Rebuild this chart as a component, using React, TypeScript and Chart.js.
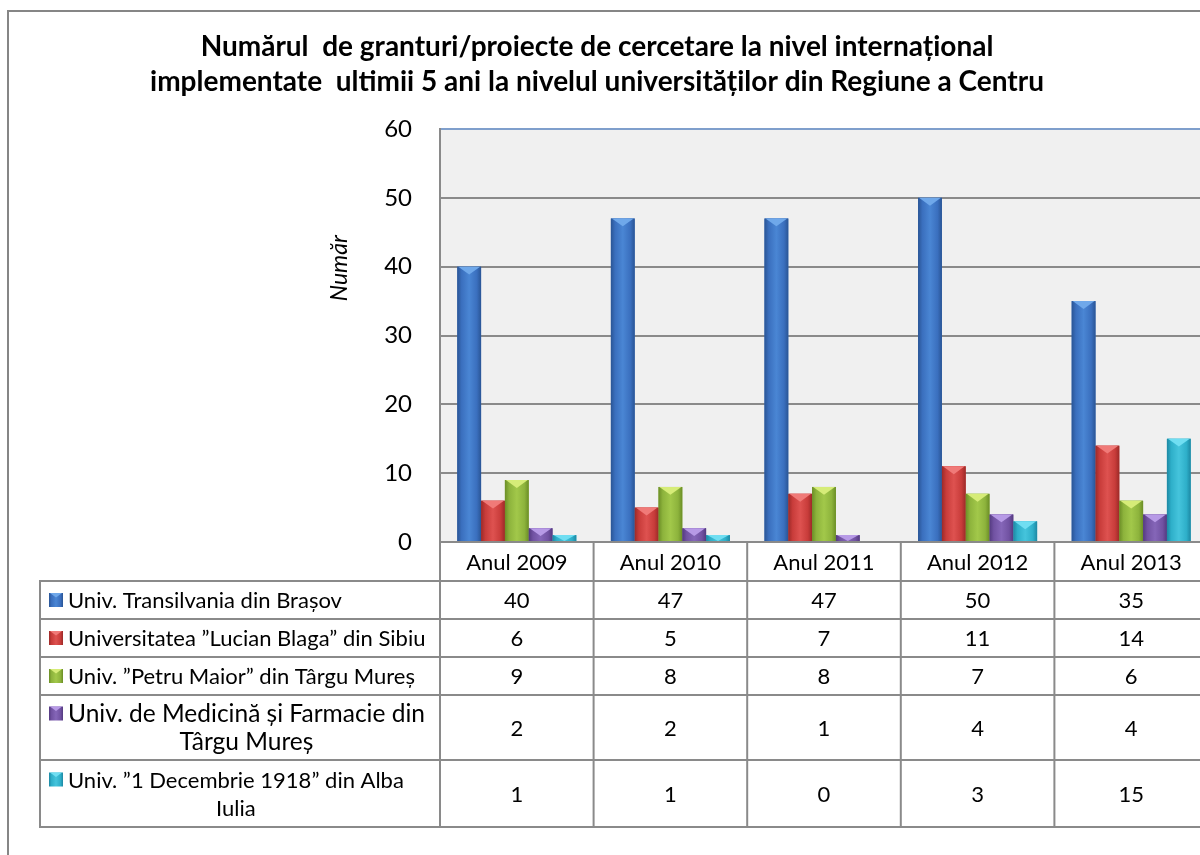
import React, { useEffect, useRef } from "react";
import { Chart, registerables } from "chart.js";

Chart.register(...registerables);

// ---------- data ----------
const categories = ["Anul 2009", "Anul 2010", "Anul 2011", "Anul 2012", "Anul 2013"];
const seriesNames = [
  "Univ. Transilvania din Brașov",
  "Universitatea ”Lucian Blaga” din Sibiu",
  "Univ. ”Petru Maior” din Târgu Mureș",
  "Univ. de Medicină și Farmacie din Târgu Mureș",
  "Univ. ”1 Decembrie 1918” din Alba Iulia",
];
const seriesLabelLines = [
  ["Univ. Transilvania din Brașov"],
  ["Universitatea ”Lucian Blaga” din Sibiu"],
  ["Univ. ”Petru Maior” din Târgu Mureș"],
  ["Univ. de Medicină și Farmacie din", "Târgu Mureș"],
  ["Univ. ”1 Decembrie 1918” din Alba", "Iulia"],
];
const brasov = [40, 47, 47, 50, 35];
const sibiu = [6, 5, 7, 11, 14];
const petruMaior = [9, 8, 8, 7, 6];
const medicina = [2, 2, 1, 4, 4];
const albaIulia = [1, 1, 0, 3, 15];
const seriesValues = [brasov, sibiu, petruMaior, medicina, albaIulia];
const yMin = 0;
const yMax = 60;
const yStep = 10;
const titleLines = [
  "Numărul  de granturi/proiecte de cercetare la nivel internațional",
  "implementate  ultimii 5 ani la nivelul universităților din Regiune a Centru",
];
const yAxisTitle = "Număr";

// ---------- styles ----------
const palette = [
  { base: "#3a6fbe", dark: "#2a5595", light: "#4a86d4", cap: "#6fa8ea" },
  { base: "#c83c3a", dark: "#9c2a28", light: "#de5250", cap: "#f07a78" },
  { base: "#8db33c", dark: "#6b8e26", light: "#a2c84a", cap: "#d6ec78" },
  { base: "#7152a2", dark: "#543a80", light: "#8566b8", cap: "#b79ae6" },
  { base: "#2eafc9", dark: "#1d88a3", light: "#45c4dc", cap: "#70def2" },
];
const FONT = "Lato, 'Open Sans', sans-serif";
const LINE = "#8a8a8a";
const headerHeight = 39;
const rowHeights = [38, 38, 38, 65, 67];
const labelFontSizes = [22, 22, 22, 24.5, 22];
const cellFontSize = 22;
const tableLeft = 40;
const labelTextX = 68;
const iconX = 49;
const iconSize = 14;

function drawGradientBox(ctx: CanvasRenderingContext2D, left: number, top: number, w: number, h: number, c: any) {
  const g = ctx.createLinearGradient(left, 0, left + w, 0);
  g.addColorStop(0, c.dark);
  g.addColorStop(0.18, c.base);
  g.addColorStop(0.5, c.light);
  g.addColorStop(0.82, c.base);
  g.addColorStop(1, c.dark);
  ctx.fillStyle = g;
  ctx.fillRect(left, top, w, h);
  const capH = Math.min(w * 0.33, h);
  ctx.beginPath();
  ctx.moveTo(left + 1, top);
  ctx.lineTo(left + w - 1, top);
  ctx.lineTo(left + w / 2, top + capH);
  ctx.closePath();
  ctx.fillStyle = c.cap;
  ctx.fill();
}

const decorPlugin = {
  id: "decor",
  beforeDraw(chart: any) {
    const { ctx, chartArea: a } = chart;
    ctx.save();
    ctx.fillStyle = "#ffffff";
    ctx.fillRect(0, 0, chart.width, chart.height);
    ctx.fillStyle = "#f0f0f0";
    ctx.fillRect(a.left, a.top, a.right - a.left, a.bottom - a.top);
    ctx.restore();
  },
  afterDatasetsDraw(chart: any) {
    const { ctx } = chart;
    ctx.save();
    chart.data.datasets.forEach((ds: any, di: number) => {
      const meta = chart.getDatasetMeta(di);
      meta.data.forEach((el: any) => {
        const h = el.base - el.y;
        if (h < 0.5) return;
        const w = el.width;
        drawGradientBox(ctx, el.x - w / 2, el.y, w, h, palette[di]);
      });
    });
    ctx.restore();
  },
  afterDraw(chart: any) {
    const { ctx, chartArea: a } = chart;
    const xs = chart.scales.x;
    ctx.save();

    // frame
    ctx.strokeStyle = "#868686";
    ctx.lineWidth = 2;
    ctx.strokeRect(8, 11, 1208, 880);

    // title
    ctx.fillStyle = "#000";
    ctx.textAlign = "center";
    ctx.textBaseline = "middle";
    ctx.font = `bold 28px ${FONT}`;
    ctx.fillText(titleLines[0], 597, 47);
    ctx.fillText(titleLines[1], 597, 82);

    // y axis title
    ctx.save();
    ctx.translate(340, a.top + 0.337 * (a.bottom - a.top));
    ctx.rotate(-Math.PI / 2);
    ctx.font = `italic 23px ${FONT}`;
    ctx.fillText(yAxisTitle, 0, 0);
    ctx.restore();

    // data table
    const catW = xs.getPixelForValue(1) - xs.getPixelForValue(0);
    const colEdges = categories.map((_, i) => xs.getPixelForValue(i) - catW / 2);
    colEdges.push(xs.getPixelForValue(categories.length - 1) + catW / 2);
    const right = colEdges[colEdges.length - 1];
    const headTop = a.bottom;
    const rowTops: number[] = [headTop + headerHeight];
    rowHeights.forEach((h) => rowTops.push(rowTops[rowTops.length - 1] + h));
    const bottom = rowTops[rowTops.length - 1];

    ctx.strokeStyle = LINE;
    ctx.lineWidth = 2;
    ctx.beginPath();
    colEdges.forEach((x) => {
      ctx.moveTo(x, headTop);
      ctx.lineTo(x, bottom);
    });
    ctx.moveTo(tableLeft, rowTops[0]);
    ctx.lineTo(tableLeft, bottom);
    rowTops.forEach((y) => {
      ctx.moveTo(tableLeft - 1, y);
      ctx.lineTo(right, y);
    });
    ctx.stroke();

    // header
    ctx.fillStyle = "#000";
    ctx.textAlign = "center";
    ctx.textBaseline = "middle";
    ctx.font = `${cellFontSize}px ${FONT}`;
    categories.forEach((c, i) => {
      ctx.fillText(c, xs.getPixelForValue(i), headTop + headerHeight / 2 + 1);
    });

    // rows
    seriesValues.forEach((vals, r) => {
      const top = rowTops[r];
      const h = rowHeights[r];
      const cy = top + h / 2;
      ctx.fillStyle = "#000";
      ctx.font = `${cellFontSize}px ${FONT}`;
      ctx.textAlign = "center";
      vals.forEach((v, i) => {
        ctx.fillText(String(v), xs.getPixelForValue(i), cy + 1);
      });
      const lines = seriesLabelLines[r];
      const fs = labelFontSizes[r];
      ctx.font = `${fs}px ${FONT}`;
      const lh = 28;
      const firstY = cy - ((lines.length - 1) * lh) / 2;
      const w0 = ctx.measureText(lines[0]).width;
      lines.forEach((ln, li) => {
        const y = firstY + li * lh + 1;
        if (li === 0) {
          ctx.textAlign = "left";
          ctx.fillText(ln, labelTextX, y);
        } else {
          ctx.textAlign = "center";
          ctx.fillText(ln, labelTextX + w0 / 2, y);
        }
      });
      drawGradientBox(ctx, iconX, firstY - iconSize / 2, iconSize, iconSize, palette[r]);
    });

    ctx.restore();
  },
};

export default function App() {
  const ref = useRef<HTMLCanvasElement | null>(null);
  useEffect(() => {
    if (!ref.current) return;
    const chart = new Chart(ref.current, {
      type: "bar",
      data: {
        labels: categories,
        datasets: seriesValues.map((vals, i) => ({
          label: seriesNames[i],
          data: vals,
          backgroundColor: palette[i].base,
          borderWidth: 0,
          categoryPercentage: 0.775,
          barPercentage: 1,
        })),
      },
      options: {
        responsive: false,
        animation: false,
        devicePixelRatio: 1,
        layout: { padding: { top: 129, right: 22, bottom: 313, left: 0 } },
        plugins: {
          legend: { display: false },
          tooltip: { enabled: false },
          title: { display: false },
        },
        scales: {
          x: {
            grid: { display: false },
            ticks: { display: false },
            border: { display: true, color: LINE, width: 2 },
            afterFit: (s: any) => {
              s.height = 0;
            },
          },
          y: {
            min: yMin,
            max: yMax,
            ticks: {
              stepSize: yStep,
              color: "#000",
              font: { family: FONT, size: 24 },
              padding: 28,
            },
            grid: {
              color: (c: any) => (c.tick && c.tick.value === yMax ? "#7f9fcc" : LINE),
              lineWidth: 2,
              drawTicks: false,
            },
            border: { color: LINE, width: 2 },
            afterFit: (s: any) => {
              s.width = 440;
            },
          },
        },
      },
      plugins: [decorPlugin],
    });
    return () => chart.destroy();
  }, []);
  return (
    <div
      style={{
        position: "fixed",
        left: 0,
        top: 0,
        width: 1200,
        height: 855,
        overflow: "hidden",
        background: "#fff",
      }}
    >
      <canvas ref={ref} width={1230} height={855} style={{ display: "block", width: 1230, height: 855 }} />
    </div>
  );
}
